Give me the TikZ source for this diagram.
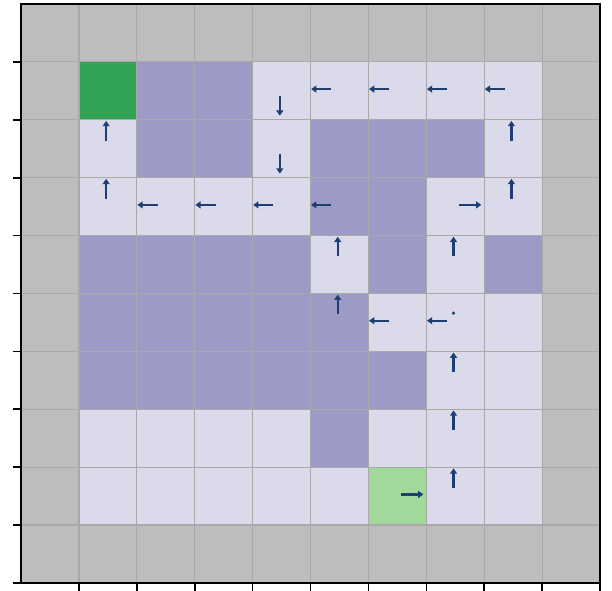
\documentclass[tikz,border=0pt]{standalone}
\usetikzlibrary{arrows.meta}
\definecolor{wall}{HTML}{BDBDBD}
\definecolor{block}{HTML}{9E9AC8}
\definecolor{free}{HTML}{DADAEB}
\definecolor{goal}{HTML}{31A354}
\definecolor{start}{HTML}{A1D99B}
\definecolor{pol}{HTML}{1F3F73}
\definecolor{gridln}{HTML}{A9A9A9}

\begin{document}
\begin{tikzpicture}[
  x=1cm, y=1cm,
  act/.style={-{Triangle[length=2.6pt,width=3.4pt]},line width=1.1pt,draw=pol},
  gline/.style={draw=gridln,line width=0.6pt},
  frame/.style={draw=black,line width=1pt},
  tickmark/.style={draw=black,line width=0.8pt},
]
\useasboundingbox (-0.363,-0.121) rectangle (10.207,10.069);

% ---------------------------------------------------------------- cells
\fill[wall] (0,0) rectangle (10,10);
\fill[free] (1,1) rectangle (9,9);
\foreach \c/\r in {2/1,3/1,
                   2/2,3/2,5/2,6/2,7/2,
                   5/3,6/3,
                   1/4,2/4,3/4,4/4,6/4,8/4,
                   1/5,2/5,3/5,4/5,5/5,
                   1/6,2/6,3/6,4/6,5/6,6/6,
                   5/7}
  \fill[block] (\c,9-\r) rectangle ++(1,1);
\fill[goal]  (1,8) rectangle ++(1,1);
\fill[start] (6,1) rectangle ++(1,1);

\draw[gline] (0,0) grid (10,10);

% ---------------------------------------------------------------- policy
\foreach \c/\r in {5/1,6/1,7/1,8/1,2/3,3/3,4/3,5/3,6/5,7/5}
  \draw[act] (\c+0.36,9.53-\r) -- (\c+0.01,9.53-\r);
\foreach \c/\r in {1/2,8/2,1/3,8/3,5/4,7/4,5/5,7/6,7/7,7/8}
  \draw[act] (\c+0.47,9.64-\r) -- (\c+0.47,9.98-\r);
\foreach \c/\r in {4/1,4/2}
  \draw[act] (\c+0.47,9.41-\r) -- (\c+0.47,9.07-\r);
\foreach \c/\r in {7/3,6/8}
  \draw[act] (\c+0.57,9.53-\r) -- (\c+0.95,9.53-\r);
\fill[pol] (7.47,4.66) circle (0.03);

% ---------------------------------------------------------------- axes
\draw[frame] (0,0) rectangle (10,10);
\foreach \k in {0,...,9}  \draw[tickmark] (0,\k) -- ++(-0.14,0);
\foreach \k in {1,...,10} \draw[tickmark] (\k,0) -- ++(0,-0.14);

\end{tikzpicture}
\end{document}
